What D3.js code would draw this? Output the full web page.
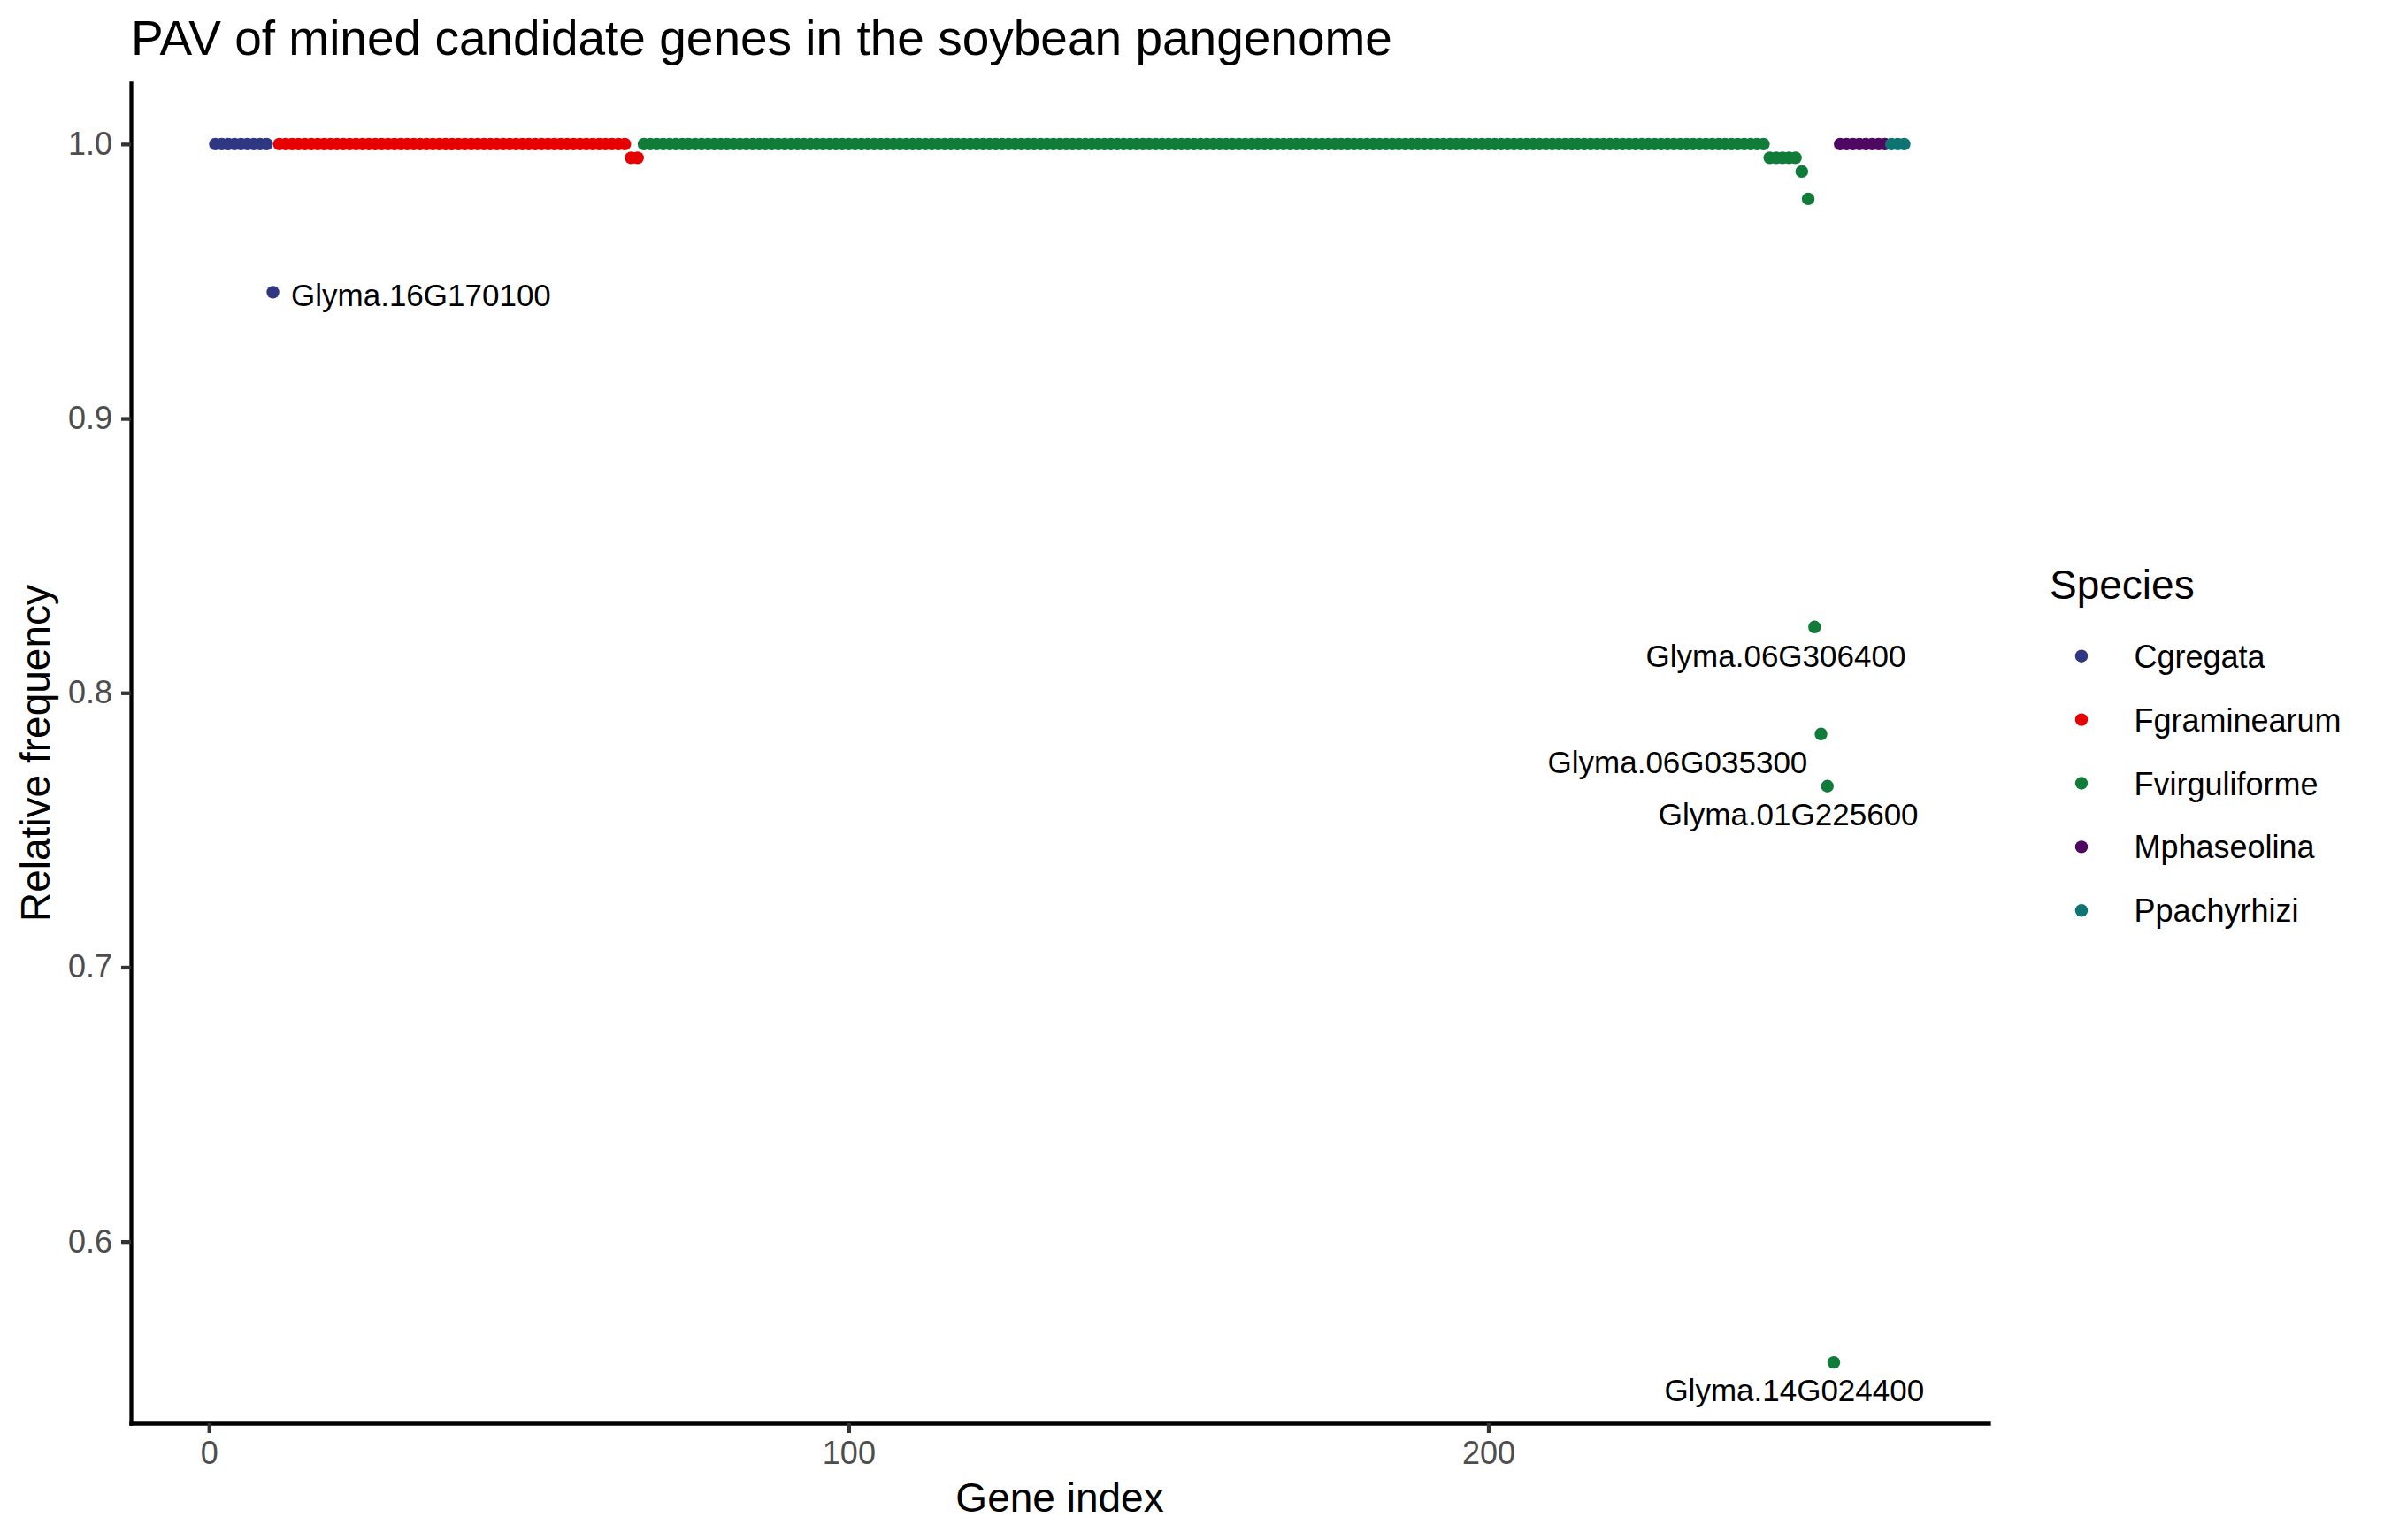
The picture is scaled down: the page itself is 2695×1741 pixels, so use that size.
<!DOCTYPE html>
<html>
<head>
<meta charset="utf-8">
<script src="https://d3js.org/d3.v7.min.js"></script>
<style>
  body { margin: 0; background: #ffffff; }
  text { font-family: "Liberation Sans", Arial, Helvetica, sans-serif; }
</style>
</head>
<body>
<script>
var svgWidth = 2695;
var svgHeight = 1741;

var Margin = {
  top: 94,
  right: 447,
  bottom: 132,
  left: 148
};

var Width = svgWidth - Margin.left - Margin.right;
var Height = svgHeight - Margin.top - Margin.bottom;

// species in the order the genes are indexed
var species = ["Cgregata", "Fgraminearum", "Fvirguliforme", "Mphaseolina", "Ppachyrhizi"];
var speciesColors = ["#2f3782", "#e60000", "#117c3a", "#4f0862", "#0d7472"];

// relative frequency of each mined gene, per species
var cgregataFreq = [1, 1, 1, 1, 1, 1, 1, 1, 1, 0.946];

var fgraminearumFreq = [
  1, 1, 1, 1, 1, 1, 1, 1, 1, 1, 1, 1, 1, 1, 1, 1, 1, 1, 1, 1,
  1, 1, 1, 1, 1, 1, 1, 1, 1, 1, 1, 1, 1, 1, 1, 1, 1, 1, 1, 1,
  1, 1, 1, 1, 1, 1, 1, 1, 1, 1, 1, 1, 1, 1, 1, 0.995, 0.995
];

var fvirguliformeFreq = [
  1, 1, 1, 1, 1, 1, 1, 1, 1, 1, 1, 1, 1, 1, 1, 1, 1, 1, 1, 1,
  1, 1, 1, 1, 1, 1, 1, 1, 1, 1, 1, 1, 1, 1, 1, 1, 1, 1, 1, 1,
  1, 1, 1, 1, 1, 1, 1, 1, 1, 1, 1, 1, 1, 1, 1, 1, 1, 1, 1, 1,
  1, 1, 1, 1, 1, 1, 1, 1, 1, 1, 1, 1, 1, 1, 1, 1, 1, 1, 1, 1,
  1, 1, 1, 1, 1, 1, 1, 1, 1, 1, 1, 1, 1, 1, 1, 1, 1, 1, 1, 1,
  1, 1, 1, 1, 1, 1, 1, 1, 1, 1, 1, 1, 1, 1, 1, 1, 1, 1, 1, 1,
  1, 1, 1, 1, 1, 1, 1, 1, 1, 1, 1, 1, 1, 1, 1, 1, 1, 1, 1, 1,
  1, 1, 1, 1, 1, 1, 1, 1, 1, 1, 1, 1, 1, 1, 1, 1, 1, 1, 1, 1,
  1, 1, 1, 1, 1, 1, 1, 1, 1, 1, 1, 1, 1, 1, 1, 1,
  0.995, 0.995, 0.995, 0.995, 0.995, 0.990, 0.980,
  0.824, 0.785, 0.766, 0.556
];

var mphaseolinaFreq = [1, 1, 1, 1, 1, 1, 1, 1];

var ppachyrhiziFreq = [1, 1, 1];

// labelled outlier genes and their gene index
var labelGenes = ["Glyma.16G170100", "Glyma.06G306400", "Glyma.06G035300", "Glyma.01G225600", "Glyma.14G024400"];
var labelIndex = [10, 251, 252, 253, 254];

var xTicks = [0, 100, 200];
var yTicks = [0.6, 0.7, 0.8, 0.9, 1.0];

var chartTitle = "PAV of mined candidate genes in the soybean pangenome";
var xTitle = "Gene index";
var yTitle = "Relative frequency";
var legendTitle = "Species";

// one row per gene
var freqBySpecies = [cgregataFreq, fgraminearumFreq, fvirguliformeFreq, mphaseolinaFreq, ppachyrhiziFreq];
var geneData = [];
freqBySpecies.forEach(function(list, i) {
  list.forEach(function(f) {
    geneData.push({ index: geneData.length + 1, species: species[i], freq: f });
  });
});

var svg = d3.select("body")
  .append("svg")
  .attr("height", svgHeight)
  .attr("width", svgWidth);

svg.append("rect")
  .attr("width", svgWidth)
  .attr("height", svgHeight)
  .attr("fill", "#ffffff");

var chartGroup = svg.append("g")
  .attr("transform", `translate(${Margin.left}, ${Margin.top})`);

// ggplot style 5% expansion on both axes
var xExt = d3.extent(geneData, d => d.index);
var xPad = (xExt[1] - xExt[0]) * 0.05;
var xScale = d3.scaleLinear()
  .domain([xExt[0] - xPad, xExt[1] + xPad])
  .range([0, Width]);

var yExt = d3.extent(geneData, d => d.freq);
var yPad = (yExt[1] - yExt[0]) * 0.05;
var yLinearScale = d3.scaleLinear()
  .domain([yExt[0] - yPad, yExt[1] + yPad])
  .range([Height, 0]);

var colorScale = d3.scaleOrdinal()
  .domain(species)
  .range(speciesColors);

// axes
var bottomAxis = d3.axisBottom(xScale)
  .tickValues(xTicks)
  .tickSize(11)
  .tickPadding(9)
  .tickSizeOuter(0);

var leftAxis = d3.axisLeft(yLinearScale)
  .tickValues(yTicks)
  .tickFormat(d3.format(".1f"))
  .tickSize(11)
  .tickPadding(10)
  .tickSizeOuter(0);

var yAxisG = chartGroup.append("g")
  .call(leftAxis);

var xAxisG = chartGroup.append("g")
  .attr("transform", `translate(0, ${Height})`)
  .call(bottomAxis);

[xAxisG, yAxisG].forEach(function(g) {
  g.attr("font-family", null).attr("font-size", null);
  g.select(".domain")
    .attr("stroke", "#000000")
    .attr("stroke-width", 4.3)
    .attr("stroke-linecap", "square");
  g.selectAll(".tick line")
    .attr("stroke", "#333333")
    .attr("stroke-width", 4.3);
  g.selectAll(".tick text")
    .attr("fill", "#4d4d4d")
    .style("font-size", "36px");
});

// points
chartGroup.selectAll(".gene")
  .data(geneData)
  .enter()
  .append("circle")
  .attr("class", "gene")
  .attr("r", 7.2)
  .attr("cx", d => xScale(d.index))
  .attr("cy", d => yLinearScale(d.freq))
  .attr("fill", d => colorScale(d.species));

// gene labels, nudged off their points like ggrepel did
var labelNudge = [
  { dx: 20.5, dy: 15.7, anchor: "start" },
  { dx: -43.8, dy: 45, anchor: "middle" },
  { dx: -15.2, dy: 44.3, anchor: "end" },
  { dx: -44.1, dy: 44.3, anchor: "middle" },
  { dx: -44.7, dy: 44.3, anchor: "middle" }
];

chartGroup.selectAll(".gene-label")
  .data(labelGenes)
  .enter()
  .append("text")
  .attr("class", "gene-label")
  .attr("x", (d, i) => xScale(labelIndex[i]) + labelNudge[i].dx)
  .attr("y", (d, i) => yLinearScale(geneData[labelIndex[i] - 1].freq) + labelNudge[i].dy)
  .attr("text-anchor", (d, i) => labelNudge[i].anchor)
  .attr("fill", "#000000")
  .style("font-size", "35px")
  .text(d => d);

// titles
svg.append("text")
  .attr("x", Margin.left)
  .attr("y", 62)
  .attr("fill", "#000000")
  .style("font-size", "55px")
  .text(chartTitle);

svg.append("text")
  .attr("x", Margin.left + Width / 2)
  .attr("y", 1709)
  .attr("text-anchor", "middle")
  .attr("fill", "#000000")
  .style("font-size", "46px")
  .text(xTitle);

svg.append("text")
  .attr("transform", `translate(56, ${Margin.top + Height / 2}) rotate(-90)`)
  .attr("text-anchor", "middle")
  .attr("fill", "#000000")
  .style("font-size", "46px")
  .text(yTitle);

// legend
var legend = svg.append("g")
  .attr("transform", "translate(2317, 0)");

legend.append("text")
  .attr("x", 0)
  .attr("y", 677)
  .attr("fill", "#000000")
  .style("font-size", "46px")
  .text(legendTitle);

var legendRow = legend.selectAll(".legend-row")
  .data(species)
  .enter()
  .append("g")
  .attr("class", "legend-row")
  .attr("transform", (d, i) => `translate(0, ${741.7 + i * 71.9})`);

legendRow.append("circle")
  .attr("cx", 36)
  .attr("cy", 0)
  .attr("r", 7.2)
  .attr("fill", d => colorScale(d));

legendRow.append("text")
  .attr("x", 95.5)
  .attr("y", 13)
  .attr("fill", "#000000")
  .style("font-size", "36px")
  .text(d => d);
</script>
</body>
</html>
